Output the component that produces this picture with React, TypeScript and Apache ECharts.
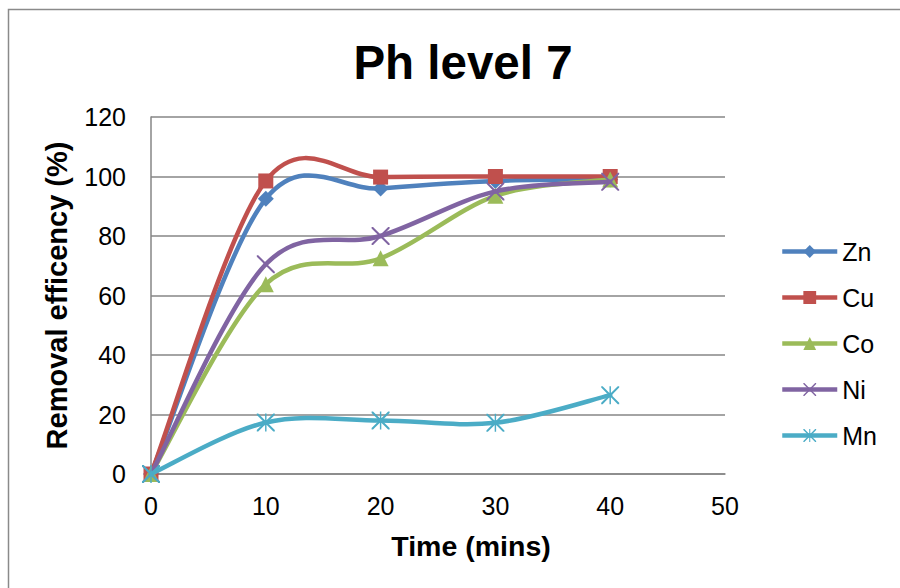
import React, { useEffect, useRef } from "react";
import * as echarts from "echarts";

const times = [0, 10, 20, 30, 40];
const seriesNames = ["Zn", "Cu", "Co", "Ni", "Mn"];
const zn = [0, 92.5, 96, 98.5, 99];
const cu = [0, 98.5, 99.8, 100, 100];
const co = [0, 63.8, 72.5, 93.5, 99];
const ni = [0, 70.5, 80, 95, 98.2];
const mn = [0, 17.3, 18, 17.2, 26.5];
const yTicks = [0, 20, 40, 60, 80, 100, 120];
const xTicks = [0, 10, 20, 30, 40, 50];

const colors = ["#4F81BD", "#C0504D", "#9BBB59", "#8064A2", "#4BACC6"];
const xPath =
  "path://M0,0 L1.6,0 L10,8.4 L18.4,0 L20,0 L20,1.6 L11.6,10 L20,18.4 L20,20 L18.4,20 L10,11.6 L1.6,20 L0,20 L0,18.4 L8.4,10 L0,1.6 Z";
const starPath =
  "path://M0,0 L1.6,0 L10,8.4 L18.4,0 L20,0 L20,1.6 L11.6,10 L20,18.4 L20,20 L18.4,20 L10,11.6 L1.6,20 L0,20 L0,18.4 L8.4,10 L0,1.6 Z M9.2,0 L10.8,0 L10.8,20 L9.2,20 Z";
const symbols = ["diamond", "rect", "triangle", xPath, starPath];
const symbolSizes = [16, 15, 16, 18, 18];
const values = [zn, cu, co, ni, mn];

export default function App() {
  const ref = useRef<HTMLDivElement>(null);
  useEffect(() => {
    if (!ref.current) return;
    const chart = echarts.init(ref.current, undefined, { renderer: "svg" });
    const font = "'Liberation Sans', Arial, sans-serif";

    const curveSeries = seriesNames.map((name, i) => {
      const vals = values[i];
      return {
        name: name + " curve",
        type: "custom",
        z: 2 + i * 2,
        silent: true,
        data: times.map((t, j) => [t, vals[j]]),
        renderItem: (params: any, api: any) => {
          const j = params.dataIndex;
          const n = times.length;
          if (j >= n - 1) return null;
          const pt = (k: number) => {
            const kk = Math.max(0, Math.min(n - 1, k));
            return api.coord([times[kk], vals[kk]]);
          };
          const p0 = pt(j - 1);
          const p1 = pt(j);
          const p2 = pt(j + 1);
          const p3 = pt(j + 2);
          const f = 1 / 6;
          return {
            type: "bezierCurve",
            shape: {
              x1: p1[0],
              y1: p1[1],
              cpx1: p1[0] + (p2[0] - p0[0]) * f,
              cpy1: p1[1] + (p2[1] - p0[1]) * f,
              cpx2: p2[0] - (p3[0] - p1[0]) * f,
              cpy2: p2[1] - (p3[1] - p1[1]) * f,
              x2: p2[0],
              y2: p2[1],
            },
            style: {
              stroke: colors[i],
              lineWidth: 4.5,
              fill: "none",
              lineCap: "round",
            },
          };
        },
      };
    });

    const markerSeries = seriesNames.map((name, i) => ({
      name,
      type: "line",
      data: times.map((t, j) => [t, values[i][j]]),
      symbol: symbols[i],
      symbolSize: symbolSizes[i],
      color: colors[i],
      lineStyle: { width: 0, opacity: 0, color: colors[i] },
      itemStyle: { color: colors[i] },
      z: 3 + i * 2,
    }));

    chart.setOption({
      animation: false,
      backgroundColor: "#ffffff",
      title: {
        text: "Ph level 7",
        left: 458,
        top: 33,
        textAlign: "center",
        textStyle: { fontFamily: font, fontSize: 47.5, fontWeight: "bold", color: "#000" },
      },
      graphic: [
        {
          type: "rect",
          shape: { x: 8.5, y: 9.5, width: 1000, height: 1000 },
          style: { fill: "none", stroke: "#8a8a8a", lineWidth: 1.5 },
          silent: true,
        },
      ],
      legend: {
        orient: "vertical",
        left: 775,
        top: 234,
        itemWidth: 55,
        itemHeight: 16,
        itemGap: 21,
        itemTextGap: 4,
        data: seriesNames.map((name, i) => ({
          name,
          lineStyle: { width: 4.5, opacity: 1, color: colors[i] },
        })),
        textStyle: { fontFamily: font, fontSize: 25, color: "#000", lineHeight: 24 },
      },
      grid: { left: 151, top: 117, width: 574, height: 357, containLabel: false },
      xAxis: {
        type: "value",
        min: 0,
        max: 50,
        interval: 10,
        name: "Time (mins)",
        nameLocation: "middle",
        nameGap: 57,
        nameTextStyle: {
          fontFamily: font,
          fontSize: 28.5,
          fontWeight: "bold",
          color: "#000",
          padding: [0, 0, 0, 66],
        },
        axisLine: { show: true, lineStyle: { color: "#868686", width: 1.5 } },
        axisTick: { show: false },
        splitLine: { show: false },
        axisLabel: {
          fontFamily: font,
          fontSize: 25,
          color: "#000",
          margin: 19,
          formatter: (v: number) => (xTicks.includes(v) ? String(v) : ""),
        },
      },
      yAxis: {
        type: "value",
        min: 0,
        max: 120,
        interval: 20,
        name: "Removal efficency (%)",
        nameLocation: "middle",
        nameGap: 80,
        nameTextStyle: { fontFamily: font, fontSize: 29, fontWeight: "bold", color: "#000" },
        axisLine: { show: true, lineStyle: { color: "#868686", width: 1.5 } },
        axisTick: { show: false },
        splitLine: { show: true, lineStyle: { color: "#868686", width: 1.5 } },
        axisLabel: {
          fontFamily: font,
          fontSize: 25,
          color: "#000",
          margin: 25,
          formatter: (v: number) => (yTicks.includes(v) ? String(v) : ""),
        },
      },
      series: [...curveSeries, ...markerSeries],
    });
    return () => chart.dispose();
  }, []);
  return (
    <div
      ref={ref}
      style={{ position: "fixed", left: 0, top: 0, width: 900, height: 588 }}
    />
  );
}
